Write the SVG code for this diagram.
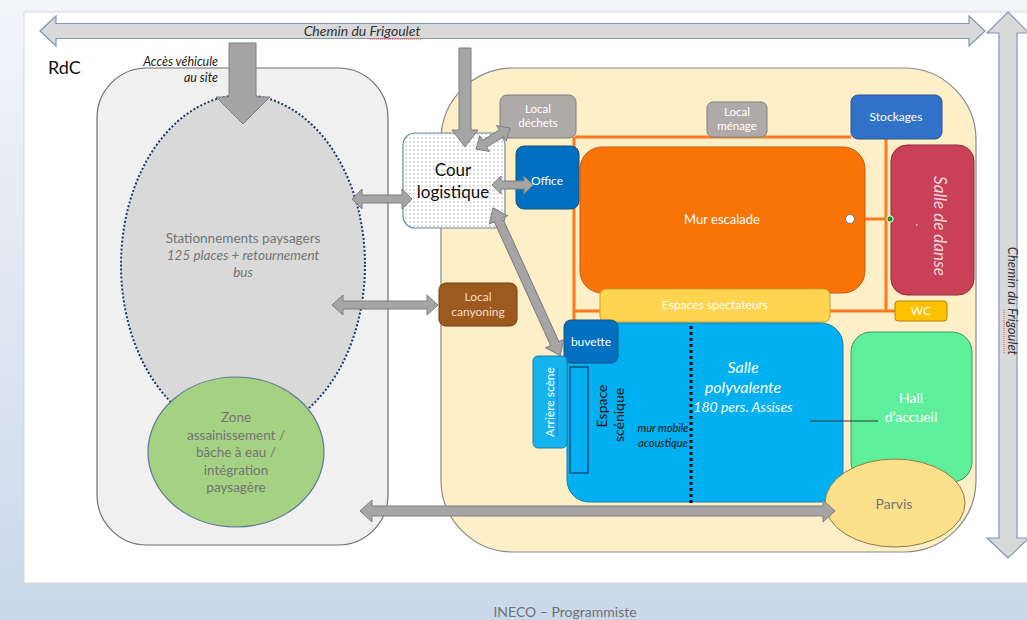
<svg xmlns="http://www.w3.org/2000/svg" width="1027" height="620" viewBox="0 0 1027 620">
<defs>
<linearGradient id="bg" x1="0" y1="0" x2="0" y2="1">
<stop offset="0" stop-color="#f3f5f9"/>
<stop offset="1" stop-color="#cad8eb"/>
</linearGradient>
<pattern id="dots" width="4" height="4" patternUnits="userSpaceOnUse">
<rect width="4" height="4" fill="#ffffff"/>
<circle cx="2" cy="2" r="0.65" fill="#9a9a9a"/>
</pattern>
<style>
text{font-family:Lato,"Open Sans","Liberation Sans",sans-serif}
.w{fill:#ffffff;text-anchor:middle}
.g{fill:#747474;text-anchor:middle}
.it{font-style:italic}
.arr{fill:#a5a5a5;stroke:#7f7f7f;stroke-width:1}
.road{fill:#d9d9d9;stroke:#8496b0;stroke-width:1.2}
.or{stroke:#ff7a1a;stroke-width:3;fill:none}
</style>
</defs>

<rect width="1027" height="620" fill="url(#bg)"/>
<rect x="24" y="12" width="1010" height="571" fill="#ffffff" stroke="#d6d6d6"/>
<text x="565" y="617" font-size="14" fill="#707070" text-anchor="middle">INECO – Programmiste</text>

<text x="48" y="74" font-size="18" fill="#111">RdC</text>

<g id="zone-site">
<rect x="97" y="68" width="291" height="477" rx="50" fill="#f0f0f0" stroke="#6f6f6f" stroke-width="1.2"/>
</g>
<g id="zone-batiment">
<rect x="441" y="68" width="535" height="484" rx="72" fill="#fdefc7" stroke="#8a8a8a" stroke-width="1.2"/>
</g>

<g id="stationnements">
<ellipse cx="243" cy="265" rx="122" ry="170" fill="#d9d9d9" stroke="#1f3864" stroke-width="2" stroke-dasharray="2 2"/>
<text class="g" x="243" y="243" font-size="13.5">Stationnements paysagers</text>
<text class="g it" x="243" y="260" font-size="13.5">125 places + retournement</text>
<text class="g it" x="243" y="277" font-size="13.5">bus</text>
</g>

<g id="zone-assainissement">
<ellipse cx="236" cy="452" rx="88" ry="75" fill="#a4d282" stroke="#5b7896" stroke-width="1.2"/>
<text class="g" x="236" y="422" font-size="13.5">Zone</text>
<text class="g" x="236" y="440" font-size="13.5">assainissement /</text>
<text class="g" x="236" y="457" font-size="13.5">bâche à eau /</text>
<text class="g" x="236" y="475" font-size="13.5">intégration</text>
<text class="g" x="236" y="492" font-size="13.5">paysagère</text>
</g>

<g id="acces-vehicule">
<polygon class="arr" points="229,43 256,43 256,97 270,97 243,124 216,97 229,97"/>
<text class="it" x="218" y="66" font-size="12.5" fill="#222" text-anchor="end">Accès véhicule</text>
<text class="it" x="218" y="82" font-size="12.5" fill="#222" text-anchor="end">au site</text>
</g>

<g id="liaisons-internes">
<path class="or" d="M575 137 H851 M886 139 V310 M865 219 H886 M574 137 V320 M574 311 H895"/>
</g>

<g id="local-dechets">
<rect x="500" y="95" width="76" height="43" rx="7" fill="#aeaaaa" stroke="#7f7f7f"/>
<text class="w" x="538" y="113" font-size="11.5">Local</text>
<text class="w" x="538" y="127" font-size="11.5">déchets</text>
</g>
<g id="local-menage">
<rect x="707" y="102" width="60" height="35" rx="6" fill="#aeaaaa" stroke="#7f7f7f"/>
<text class="w" x="737" y="116" font-size="11.5">Local</text>
<text class="w" x="737" y="130" font-size="11.5">ménage</text>
</g>
<g id="stockages">
<rect x="851" y="95" width="91" height="44" rx="7" fill="#3072c8" stroke="#2f528f"/>
<text class="w" x="896" y="121" font-size="12">Stockages</text>
</g>
<g id="mur-escalade">
<rect x="580" y="147" width="285" height="146" rx="22" fill="#f97306" stroke="#c55a11"/>
<text class="w" x="722" y="224" font-size="13">Mur escalade</text>
<circle cx="850" cy="219" r="4.5" fill="#ffffff" stroke="#777"/>
</g>
<g id="salle-danse">
<rect x="891" y="145" width="83" height="150" rx="16" fill="#c94157" stroke="#8c2d3c"/>
<text class="it" transform="translate(934 226) rotate(90)" font-size="17" fill="#f6d5dc" text-anchor="middle">Salle de danse</text>
<text transform="translate(916 225) rotate(90)" font-size="12" fill="#f6d5dc" text-anchor="middle">.</text>
<circle cx="890" cy="219" r="3.2" fill="#1a9a2a" stroke="#ffffff" stroke-width="1"/>
</g>
<g id="office">
<rect x="516" y="146" width="63" height="63" rx="8" fill="#0070c0" stroke="#1f4e79"/>
<text class="w" x="547" y="185" font-size="12">Office</text>
</g>
<g id="espaces-spectateurs">
<rect x="600" y="289" width="230" height="33" rx="6" fill="#ffd54f" stroke="#c9a227"/>
<text class="w" x="715" y="309" font-size="12">Espaces spectateurs</text>
</g>
<g id="wc">
<rect x="895" y="301" width="52" height="20" rx="3" fill="#ffc000" stroke="#b38600"/>
<text class="w" x="921" y="315" font-size="12">WC</text>
</g>
<g id="hall-accueil">
<rect x="851" y="332" width="121" height="150" rx="20" fill="#5eef9b" stroke="#3a9a64"/>
<text class="w" x="911" y="403" font-size="14">Hall</text>
<text class="w" x="911" y="422" font-size="14">d’accueil</text>
</g>
<g id="salle-polyvalente">
<rect x="567" y="323" width="276" height="179" rx="22" fill="#00b0f0" stroke="#1d7ea8"/>
<rect x="570" y="367" width="18" height="106" fill="none" stroke="#1f3864" stroke-width="1.2"/>
<line x1="691" y1="326" x2="691" y2="506" stroke="#000" stroke-width="3" stroke-dasharray="3 3"/>
<text class="w it" x="743" y="373" font-size="16">Salle</text>
<text class="w it" x="743" y="393" font-size="16">polyvalente</text>
<text class="w it" x="743" y="412" font-size="14">180 pers. Assises</text>
<text transform="translate(607 406) rotate(-90)" font-size="14" fill="#111" text-anchor="middle">Espace</text>
<text transform="translate(624 415) rotate(-90)" font-size="14" fill="#111" text-anchor="middle">scénique</text>
<text class="it" x="663" y="432" font-size="11" fill="#111" text-anchor="middle">mur mobile</text>
<text class="it" x="663" y="447" font-size="11" fill="#111" text-anchor="middle">acoustique</text>
<line x1="810" y1="421" x2="878" y2="421" stroke="#333" stroke-width="1.2"/>
</g>
<g id="buvette">
<rect x="564" y="320" width="54" height="43" rx="7" fill="#0070c0" stroke="#1f4e79"/>
<text class="w" x="591" y="346" font-size="12">buvette</text>
</g>
<g id="arriere-scene">
<rect x="533" y="356" width="34" height="92" rx="5" fill="#14b4ef" stroke="#1d7ea8"/>
<text transform="translate(554 402) rotate(-90)" font-size="12" fill="#ffffff" text-anchor="middle">Arrière scène</text>
<line x1="557" y1="368" x2="557" y2="436" stroke="#3f6fd8" stroke-width="1"/>
</g>
<g id="local-canyoning">
<rect x="439" y="283" width="78" height="43" rx="7" fill="#9c5a1f" stroke="#6e3c12"/>
<text x="478" y="301" font-size="12" fill="#f3dccb" text-anchor="middle">Local</text>
<text x="478" y="316" font-size="12" fill="#f3dccb" text-anchor="middle">canyoning</text>
</g>
<g id="parvis">
<ellipse cx="895" cy="503" rx="70" ry="44" fill="#fde08b" stroke="#8c7b4a"/>
<text class="g" x="894" y="509" font-size="14">Parvis</text>
</g>
<g id="cour-logistique">
<rect x="403" y="133" width="102" height="95" rx="12" fill="url(#dots)" stroke="#6f88a8" stroke-width="1.2"/>
<text x="453" y="176" font-size="17" fill="#111" text-anchor="middle">Cour</text>
<text x="453" y="198" font-size="17" fill="#111" text-anchor="middle">logistique</text>
</g>

<g id="chemin-nord">
<polygon class="road" points="40,31 56,16 56,23.5 969,23.5 969,16 985,31 969,46 969,38.5 56,38.5 56,46"/>
<text class="it" x="362" y="35.5" font-size="14" fill="#333" text-anchor="middle">Chemin du Frigoulet</text>
<line x1="370" y1="39" x2="422" y2="39" stroke="#e05050" stroke-width="1" stroke-dasharray="1 1"/>
</g>
<g id="chemin-est">
<polygon class="road" points="1008,12 1029,33 1017,33 1017,538 1029,538 1008,558 987,538 999,538 999,33 987,33"/>
<text class="it" transform="translate(1008 301) rotate(90)" font-size="13" fill="#333" text-anchor="middle">Chemin du Frigoulet</text>
<line x1="1004" y1="310" x2="1004" y2="353" stroke="#e05050" stroke-width="1" stroke-dasharray="1 1"/>
</g>

<g id="connecteurs">
<polygon class="arr" points="459,48 471,48 471,130 478,130 465,147 452,130 459,130"/>
<polygon class="arr" points="352,199 362,189 362,195 402,195 402,189 412,199 402,209 402,203 362,203 362,209"/>
<polygon class="arr" points="332,305 343,295 343,301 427,301 427,295 438,305 427,315 427,309 343,309 343,315"/>
<polygon class="arr" points="492,185 501,176 501,181 524,181 524,176 533,185 524,194 524,189 501,189 501,194"/>
<polygon class="arr" transform="translate(476 149) rotate(-31.7)" points="0,0 10,-9 10,-4 30,-4 30,-9 40,0 30,9 30,4 10,4 10,9"/>
<polygon class="arr" transform="translate(493 208) rotate(65.5)" points="0,0 13,-10 13,-4.5 149,-4.5 149,-10 162,0 149,10 149,4.5 13,4.5 13,10"/>
<polygon class="arr" points="360,511 372,500 372,506 823,506 823,500 835,511 823,522 823,516 372,516 372,522"/>
</g>
</svg>
